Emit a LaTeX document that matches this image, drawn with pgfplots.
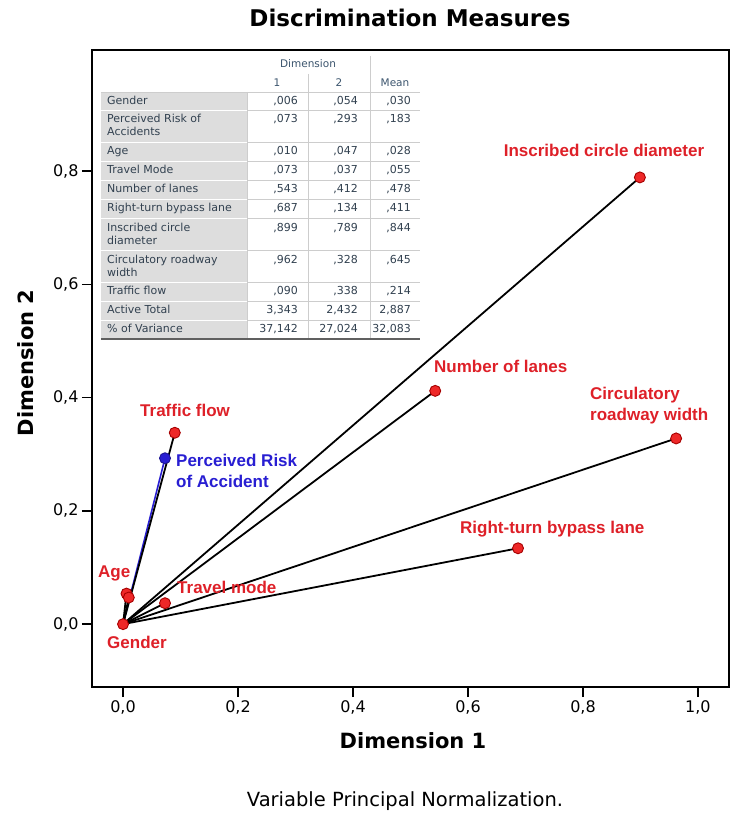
\documentclass[border=0pt]{standalone}
\usepackage{fontspec}
\setmainfont{DejaVu Sans}
\newfontfamily\lab{Liberation Sans}
\usepackage{pgfplots}
\pgfplotsset{compat=1.18}
\definecolor{lred}{RGB}{222,32,40}
\definecolor{lblue}{RGB}{40,30,210}
\definecolor{dotred}{RGB}{238,40,40}
\definecolor{tabtxt}{RGB}{50,65,80}
\definecolor{tabhead}{RGB}{60,85,110}
\definecolor{tabgray}{RGB}{221,221,221}
\definecolor{tabline}{RGB}{205,205,205}
\tikzset{
  tl/.style={anchor=mid west, inner sep=0pt, text=tabtxt, font=\fontsize{11}{13}\selectfont},
  tn/.style={anchor=mid east, inner sep=0pt, text=tabtxt, font=\fontsize{11}{13}\selectfont},
  plab/.style={inner sep=0pt, text=lred, font=\lab\bfseries\fontsize{17}{21}\selectfont},
}
\newcommand{\trow}[5]{%
  \node[tl] at (107,#1) {#2};
  \node[tn] at (298,#1) {#3};
  \node[tn] at (358,#1) {#4};
  \node[tn] at (411,#1) {#5};
}
\begin{document}
\begin{tikzpicture}
\begin{axis}[
  at={(0,0)}, anchor=south west,
  scale only axis, width=637pt, height=637pt,
  xmin=-0.054, xmax=1.054, ymin=-0.111, ymax=1.014,
  xtick={0,0.2,0.4,0.6,0.8,1.0}, ytick={0,0.2,0.4,0.6,0.8},
  xtick pos=bottom, ytick pos=left,
  tick align=outside, major tick length=10pt,
  axis line style={line width=1.5pt},
  every tick/.style={black, line width=1.5pt},
  ticklabel style={font=\fontsize{16}{18}\selectfont},
  /pgf/number format/use comma,
  /pgf/number format/fixed,
  /pgf/number format/fixed zerofill,
  /pgf/number format/precision=1,
  /pgf/number format/assume math mode=true,
]
% vectors from the origin
\addplot[lblue, line width=1.6pt] coordinates {(0,0) (0.073,0.293)};
\addplot[black, line width=1.8pt] coordinates {(0,0) (0.090,0.338)};
\addplot[black, line width=1.8pt] coordinates {(0,0) (0.899,0.789)};
\addplot[black, line width=1.8pt] coordinates {(0,0) (0.543,0.412)};
\addplot[black, line width=1.8pt] coordinates {(0,0) (0.962,0.328)};
\addplot[black, line width=1.8pt] coordinates {(0,0) (0.687,0.134)};
\addplot[black, line width=1.8pt] coordinates {(0,0) (0.073,0.037)};
\addplot[black, line width=1.8pt] coordinates {(0,0) (0.010,0.047)};
\addplot[black, line width=1.8pt] coordinates {(0,0) (0.006,0.054)};
% points
\addplot[only marks, mark=*, mark size=5.5pt,
  mark options={fill=dotred, draw=red!65!black, line width=0.9pt}]
  coordinates {(0,0) (0.006,0.054) (0.010,0.047) (0.073,0.037) (0.090,0.338)
               (0.543,0.412) (0.687,0.134) (0.899,0.789) (0.962,0.328)};
\addplot[only marks, mark=*, mark size=5.5pt,
  mark options={fill=lblue, draw=lblue!70!black, line width=0.9pt}]
  coordinates {(0.073,0.293)};
\end{axis}
\begin{scope}[shift={(-92pt,687pt)}, x=1pt, y=-1pt]
% titles
\node[font=\bfseries\fontsize{23}{27}\selectfont, anchor=mid, inner sep=0pt] at (410,24) {Discrimination Measures};
\node[font=\bfseries\fontsize{21}{25}\selectfont, anchor=mid, inner sep=0pt] at (413,746) {Dimension 1};
\node[font=\bfseries\fontsize{21}{25}\selectfont, anchor=mid, inner sep=0pt, rotate=90] at (31,363) {Dimension 2};
\node[font=\fontsize{19.5}{23}\selectfont, anchor=mid, inner sep=0pt] at (405,804) {Variable Principal Normalization.};
% point labels
\node[plab, anchor=mid] at (604,154) {Inscribed circle diameter};
\node[plab, anchor=mid west] at (434,370) {Number of lanes};
\node[plab, anchor=west, align=left] at (590,406) {Circulatory\\roadway width};
\node[plab, anchor=mid west] at (460,531) {Right-turn bypass lane};
\node[plab, anchor=mid west] at (140,414) {Traffic flow};
\node[plab, anchor=west, align=left, text=lblue] at (176,471) {Perceived Risk\\of Accident};
\node[plab, anchor=mid west] at (98,575) {Age};
\node[plab, anchor=mid west] at (177,591) {Travel mode};
\node[plab, anchor=mid west] at (107,646) {Gender};
% table
\fill[white] (101,54) rectangle (420,339);
\fill[tabgray] (101,92) rectangle (247,339);
\foreach \yy in {110,142,161,180,199,218,250,282,301,320} {
  \draw[white, line width=0.9pt] (101,\yy) -- (247,\yy);
  \draw[tabline, line width=0.9pt] (247,\yy) -- (420,\yy);
}
\draw[tabline, line width=0.9pt] (101,92) -- (420,92);
\draw[tabline, line width=0.9pt] (308,74) -- (308,339);
\draw[tabline, line width=0.9pt] (370,56) -- (370,339);
\draw[tabline, line width=0.9pt] (247,92) -- (247,339);
\draw[gray!75!black, line width=2pt] (101,339) -- (420,339);
\node[anchor=mid, inner sep=0pt, text=tabhead, font=\fontsize{10.5}{12}\selectfont] at (308,65) {Dimension};
\node[anchor=mid, inner sep=0pt, text=tabhead, font=\fontsize{10.5}{12}\selectfont] at (277,84) {1};
\node[anchor=mid, inner sep=0pt, text=tabhead, font=\fontsize{10.5}{12}\selectfont] at (339,84) {2};
\node[anchor=mid, inner sep=0pt, text=tabhead, font=\fontsize{10.5}{12}\selectfont] at (395,84) {Mean};
\trow{102}{Gender}{,006}{,054}{,030}
\trow{120}{Perceived Risk of}{,073}{,293}{,183}
\node[tl] at (107,133) {Accidents};
\trow{152}{Age}{,010}{,047}{,028}
\trow{171}{Travel Mode}{,073}{,037}{,055}
\trow{190}{Number of lanes}{,543}{,412}{,478}
\trow{209}{Right-turn bypass lane}{,687}{,134}{,411}
\trow{229}{Inscribed circle}{,899}{,789}{,844}
\node[tl] at (107,242) {diameter};
\trow{261}{Circulatory roadway}{,962}{,328}{,645}
\node[tl] at (107,274) {width};
\trow{292}{Traffic flow}{,090}{,338}{,214}
\trow{311}{Active Total}{3,343}{2,432}{2,887}
\trow{330}{\% of Variance}{37,142}{27,024}{32,083}
\end{scope}
\pgfresetboundingbox
\path (-92pt,-128pt) rectangle (641pt,687pt);
\end{tikzpicture}
\end{document}
